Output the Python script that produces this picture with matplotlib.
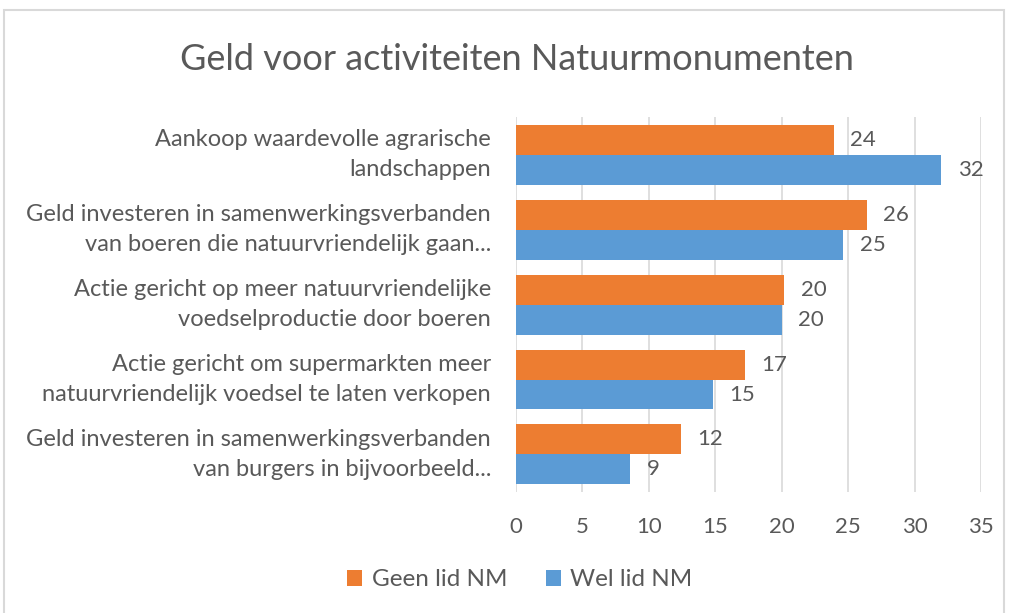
import numpy as np
import matplotlib
matplotlib.use("Agg")
import matplotlib.pyplot as plt
from matplotlib.patches import Rectangle

# data
categories = ['Aankoop waardevolle agrarische\nlandschappen',
              'Geld investeren in samenwerkingsverbanden\nvan boeren die natuurvriendelijk gaan...',
              'Actie gericht op meer natuurvriendelijke\nvoedselproductie door boeren',
              'Actie gericht om supermarkten meer\nnatuurvriendelijk voedsel te laten verkopen',
              'Geld investeren in samenwerkingsverbanden\nvan burgers in bijvoorbeeld...']
geen_lid = [23.9, 26.4, 20.2, 17.2, 12.4]
wel_lid = [32.0, 24.6, 20.0, 14.8, 8.6]
x_ticks = [0, 5, 10, 15, 20, 25, 30, 35]

orange = '#ED7D31'
blue = '#5B9BD5'
txt = '#595959'

plt.rcParams['font.family'] = ['Lato', 'DejaVu Sans']

fig = plt.figure(figsize=(10.12, 6.13), dpi=100)
ax = fig.add_axes([0.5099, 0.1974, 0.4595, 0.6117])

# chart frame
fig.patches.append(Rectangle((4 / 1012, -0.01), 1000 / 1012, 1 - 10 / 613 + 0.01,
                             transform=fig.transFigure, fill=False,
                             edgecolor='#D9D9D9', linewidth=1.5))

y = np.arange(len(categories))
h = 0.4
b1 = ax.barh(y - h / 2, geen_lid, height=h, color=orange, label='Geen lid NM')
b2 = ax.barh(y + h / 2, wel_lid, height=h, color=blue, label='Wel lid NM')

for bars, vals in [(b1, geen_lid), (b2, wel_lid)]:
    for bar, v in zip(bars, vals):
        ax.annotate('%.0f' % v, (v, bar.get_y() + bar.get_height() / 2),
                    xytext=(12, 0), textcoords='offset points',
                    ha='left', va='center', fontsize=16, color=txt)

ax.set_xlim(0, 35)
ax.set_ylim(4.5, -0.5)
ax.set_xticks(x_ticks)
ax.set_yticks(y)
ax.set_yticklabels(categories, ha='right', va='center', fontsize=17, color=txt,
                   linespacing=1.55)
ax.tick_params(axis='y', length=0, pad=18)
ax.tick_params(axis='x', length=0, pad=18, labelsize=16, labelcolor=txt)
ax.grid(axis='x', color='#D9D9D9', linewidth=1.2)
ax.set_axisbelow(True)
for s in ax.spines.values():
    s.set_visible(False)

fig.text(517 / 1012, 1 - 60 / 613, 'Geld voor activiteiten Natuurmonumenten',
         ha='center', va='center', fontsize=26, color=txt)

fig.legend(handles=[b1, b2], labels=['Geen lid NM', 'Wel lid NM'],
           loc='center', bbox_to_anchor=(520 / 1012, 1 - 580 / 613), ncol=2,
           frameon=False, fontsize=17.5, handlelength=0.6, handleheight=0.6,
           handletextpad=0.4, columnspacing=1.6, labelcolor=txt)

fig.savefig('out.png', dpi=100)
